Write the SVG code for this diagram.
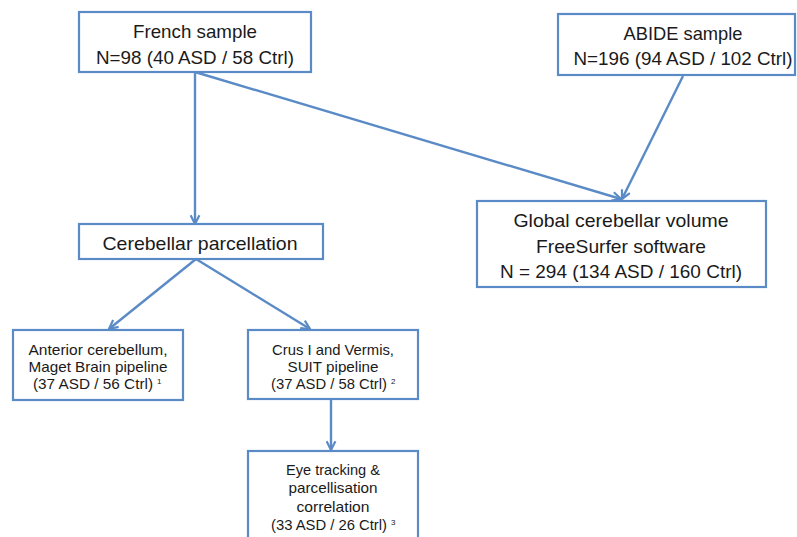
<svg xmlns="http://www.w3.org/2000/svg" width="797" height="537" viewBox="0 0 797 537">
<defs>
<style>
.box{fill:#ffffff;stroke:#5b8bc6;stroke-width:2.2}
.t{font-family:"Liberation Sans",Arial,sans-serif;fill:#1a1a1a;text-anchor:middle}
.big{font-size:19px}
.sm{font-size:15px}
.sup{font-family:"Liberation Sans",Arial,sans-serif;fill:#1a1a1a;font-size:8px;text-anchor:start}
.c{stroke:#5b8bc6;stroke-width:2.4;fill:none}
</style>
<marker id="ah" viewBox="0 0 10 10" markerWidth="11" markerHeight="11" refX="9" refY="5" orient="auto" markerUnits="userSpaceOnUse">
<path d="M1,1 L9,5 L1,9" fill="none" stroke="#5b8bc6" stroke-width="2"/>
</marker>
</defs>
<rect width="797" height="537" fill="#ffffff"/>
<g id="connectors">
<line class="c" x1="195" y1="72" x2="195" y2="224" marker-end="url(#ah)"/>
<line class="c" x1="195" y1="72" x2="621" y2="199" marker-end="url(#ah)"/>
<line class="c" x1="683" y1="76" x2="622" y2="199" marker-end="url(#ah)"/>
<line class="c" x1="196" y1="259" x2="109" y2="329" marker-end="url(#ah)"/>
<line class="c" x1="196" y1="259" x2="310" y2="329" marker-end="url(#ah)"/>
<line class="c" x1="331" y1="400" x2="331" y2="450" marker-end="url(#ah)"/>
</g>
<g id="french">
<rect class="box" x="79" y="12" width="232" height="60"/>
<text class="t big" x="195" y="38" textLength="124" lengthAdjust="spacingAndGlyphs">French sample</text>
<text class="t big" x="195" y="64" textLength="198" lengthAdjust="spacingAndGlyphs">N=98 (40 ASD / 58 Ctrl)</text>
</g>
<g id="abide">
<rect class="box" x="558" y="14" width="237" height="61"/>
<text class="t big" x="683" y="40" textLength="119" lengthAdjust="spacingAndGlyphs">ABIDE sample</text>
<text class="t big" x="683" y="65" textLength="219" lengthAdjust="spacingAndGlyphs">N=196 (94 ASD / 102 Ctrl)</text>
</g>
<g id="global">
<rect class="box" x="477" y="201" width="289" height="86"/>
<text class="t big" x="621" y="227" textLength="215" lengthAdjust="spacingAndGlyphs">Global cerebellar volume</text>
<text class="t big" x="621" y="253" textLength="170" lengthAdjust="spacingAndGlyphs">FreeSurfer software</text>
<text class="t big" x="621" y="278" textLength="242" lengthAdjust="spacingAndGlyphs">N = 294 (134 ASD / 160 Ctrl)</text>
</g>
<g id="parcellation">
<rect class="box" x="79" y="224" width="244" height="35"/>
<text class="t big" x="200" y="250" textLength="195" lengthAdjust="spacingAndGlyphs">Cerebellar parcellation</text>
</g>
<g id="anterior">
<rect class="box" x="13" y="330" width="170" height="70"/>
<text class="t sm" x="98" y="355" textLength="139" lengthAdjust="spacingAndGlyphs">Anterior cerebellum,</text>
<text class="t sm" x="98" y="372" textLength="139" lengthAdjust="spacingAndGlyphs">Maget Brain pipeline</text>
<text class="t sm" x="93" y="389" textLength="120" lengthAdjust="spacingAndGlyphs">(37 ASD / 56 Ctrl)</text>
<text class="sup" x="157" y="384">1</text>
</g>
<g id="crus">
<rect class="box" x="248" y="330" width="170" height="69"/>
<text class="t sm" x="333" y="355" textLength="122" lengthAdjust="spacingAndGlyphs">Crus I and Vermis,</text>
<text class="t sm" x="333" y="372" textLength="91" lengthAdjust="spacingAndGlyphs">SUIT pipeline</text>
<text class="t sm" x="329" y="389" textLength="116" lengthAdjust="spacingAndGlyphs">(37 ASD / 58 Ctrl)</text>
<text class="sup" x="391" y="384">2</text>
</g>
<g id="eyetracking">
<rect class="box" x="248" y="451" width="170" height="100"/>
<text class="t sm" x="333" y="475" textLength="94" lengthAdjust="spacingAndGlyphs">Eye tracking &amp;</text>
<text class="t sm" x="333" y="493" textLength="89" lengthAdjust="spacingAndGlyphs">parcellisation</text>
<text class="t sm" x="333" y="512" textLength="73" lengthAdjust="spacingAndGlyphs">correlation</text>
<text class="t sm" x="329" y="530" textLength="116" lengthAdjust="spacingAndGlyphs">(33 ASD / 26 Ctrl)</text>
<text class="sup" x="391" y="525">3</text>
</g>
</svg>
